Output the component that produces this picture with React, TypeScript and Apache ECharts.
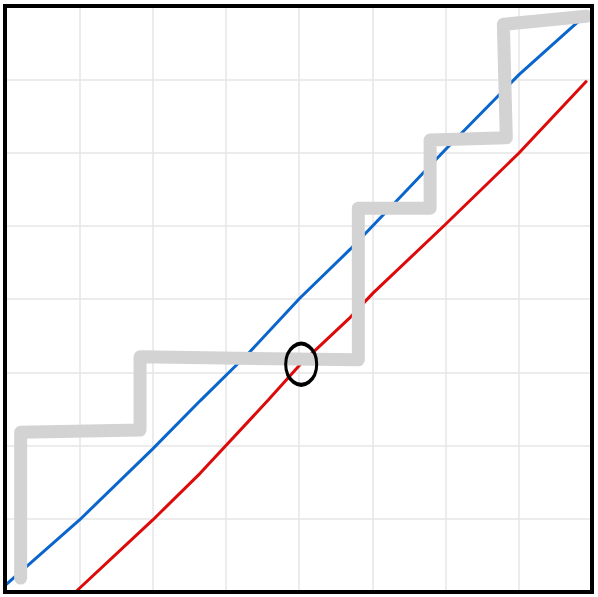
import React, { useEffect, useRef } from "react";
import * as echarts from "echarts";

const stepX = [0.2, 0.2, 1.83, 1.83, 4.81, 4.81, 5.79, 5.79, 6.83, 6.79, 7.92];
const stepY = [0.19, 2.18, 2.21, 3.21, 3.17, 5.24, 5.24, 6.17, 6.2, 7.75, 7.86];

const blueX = [0, 1.0, 2.0, 2.65, 3.33, 4.01, 4.7, 5.38, 5.99, 7.0, 7.96];
const blueY = [0.1, 0.98, 1.95, 2.61, 3.28, 4.01, 4.68, 5.39, 6.03, 7.06, 7.92];

const redX = [0.96, 2.0, 2.65, 3.58, 4.01, 4.7, 5.01, 5.99, 7.0, 7.93];
const redY = [0.01, 0.98, 1.62, 2.62, 3.1, 3.75, 4.08, 5.01, 5.99, 6.98];

const markX = [4.03];
const markY = [3.11];

const zip = (xs: number[], ys: number[]) => xs.map((x, i) => [x, ys[i]]);

export default function App() {
  const ref = useRef<HTMLDivElement>(null);
  useEffect(() => {
    if (!ref.current) return;
    const chart = echarts.init(ref.current, null, { renderer: "svg" });
    const axis = {
      type: "value" as const,
      min: 0,
      max: 8,
      interval: 1,
      axisLabel: { show: false },
      axisTick: { show: false },
      axisLine: { show: false },
      splitLine: { show: true, lineStyle: { color: "#e6e6e6", width: 1.5 } },
    };
    chart.setOption({
      animation: false,
      backgroundColor: "#ffffff",
      grid: {
        left: 6,
        top: 6,
        width: 586,
        height: 586,
        show: false,
      },
      xAxis: axis,
      yAxis: axis,
      graphic: [
        {
          type: "rect",
          shape: { x: 5, y: 6, width: 587, height: 586 },
          style: { fill: "none", stroke: "#000000", lineWidth: 4 },
          z: 10,
          silent: true,
        },
      ],
      series: [
        {
          type: "line",
          data: zip(blueX, blueY),
          symbol: "none",
          lineStyle: { color: "#0a66cc", width: 3 },
          z: 2,
        },
        {
          type: "line",
          data: zip(redX, redY),
          symbol: "none",
          lineStyle: { color: "#dd0a0a", width: 3 },
          z: 2,
        },
        {
          type: "line",
          data: zip(stepX, stepY),
          symbol: "none",
          lineStyle: { color: "#d3d3d3", width: 13, join: "round", cap: "round" },
          z: 3,
        },
        {
          type: "scatter",
          data: zip(markX, markY),
          symbol: "circle",
          symbolSize: [31, 41],
          itemStyle: { color: "transparent", borderColor: "#000000", borderWidth: 3.5, opacity: 1 },
          z: 4,
        },
      ],
    });
    return () => chart.dispose();
  }, []);
  return (
    <div
      ref={ref}
      style={{ position: "fixed", left: 0, top: 0, width: 598, height: 597 }}
    />
  );
}
